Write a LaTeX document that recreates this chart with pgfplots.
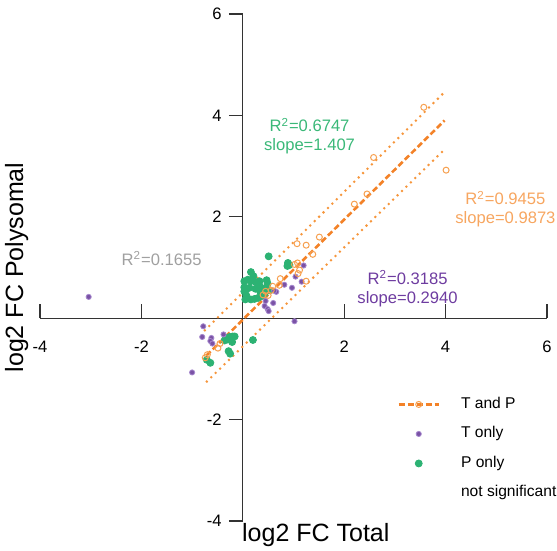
\documentclass[border=0pt]{standalone}
\usepackage{fontspec}
\setmainfont{Liberation Sans}
\usepackage{pgfplots}
\pgfplotsset{compat=1.18}

\definecolor{tpline}{RGB}{243,130,40}
\definecolor{tpdot}{RGB}{246,150,60}
\definecolor{tpmark}{RGB}{246,160,80}
\definecolor{tptext}{RGB}{247,166,96}
\definecolor{pgreen}{RGB}{44,178,115}
\definecolor{pgtext}{RGB}{58,184,120}
\definecolor{tpurple}{RGB}{122,82,165}
\definecolor{tpedge}{RGB}{165,135,205}
\definecolor{tptxt}{RGB}{110,60,160}
\definecolor{nstext}{RGB}{160,160,160}

\begin{document}
\begin{tikzpicture}
  % 1 px of the reference = 0.5pt, axis box lower left at (0,0)
  \useasboundingbox (-20pt,-15pt) rectangle (258.5pt,260.5pt);
  \begin{axis}[
      width=253.5pt, height=253.5pt, scale only axis,
      axis lines=center,
      axis line style={-, draw=black!80, line width=0.6pt},
      every inner x axis line/.append style={-},
      every inner y axis line/.append style={-},
      xmin=-4, xmax=6, ymin=-4, ymax=6,
      enlargelimits=false,
      xtick={-4,-2,2,4,6}, ytick={-4,-2,2,4,6},
      xtick align=inside, ytick align=outside,
      major tick length=7pt,
      tick style={draw=black!80, line width=0.6pt},
      tick label style={font=\fontsize{8.3}{10}\selectfont},
      xticklabel style={yshift=-8pt},
      /pgf/number format/assume math mode=true,
      xlabel={log2 FC Total},
      ylabel={log2 FC Polysomal},
      label style={font=\fontsize{12.5}{14}\selectfont},
      xlabel style={at={(axis description cs:0.544,-0.0414)}, anchor=base},
      ylabel style={at={(axis description cs:-0.0335,0.5)}, anchor=base, rotate=90},
      clip=false,
      legend image code/.code={\draw[mark repeat=2,mark phase=2,#1] plot coordinates {(0pt,0pt)(10pt,0pt)(20pt,0pt)};},
      legend style={draw=none, fill=none, at={(axis cs:3.05,-2.574)}, anchor=west,
        inner sep=0pt, outer sep=0pt,
        font=\fontsize{7.8}{9.4}\selectfont, row sep=6.75pt, column sep=0pt,
        nodes={inner sep=0pt, text height=6pt, text depth=2pt}},
      legend cell align=left,
      /tikz/every odd column/.append style={column sep=10.5pt},
    ]
    % P only
    \addplot[only marks, mark=*, mark size=1.75pt, draw=pgreen, fill=pgreen, forget plot]
      coordinates {(0.51,1.22) (0.89,1.09) (0.88,1.03) (0.92,1.05) (0.16,0.91)
        (0.21,0.83) (0.03,0.73) (0.10,0.76) (0.16,0.73) (0.26,0.71) (0.47,0.75)
        (0.49,0.68) (0.33,0.64) (0.45,0.60) (0.34,0.53) (0.25,0.58) (0.13,0.60)
        (0.03,0.61) (0.03,0.53) (0.07,0.45) (0.05,0.37) (0.16,0.37) (0.23,0.38)
        (0.30,0.40) (0.36,0.43) (0.43,0.49) (0.53,0.55) (0.07,0.57) (0.33,0.73)
        (-0.33,-0.39) (-0.26,-0.37) (-0.20,-0.36) (-0.16,-0.36) (-0.36,-0.44)
        (-0.30,-0.42) (-0.21,-0.47) (-0.28,-0.65) (-0.25,-0.70) (-0.71,-0.82)
        (-0.64,-0.88) (0.20,-0.43)};
    % T only
    \addplot[only marks, mark=*, mark size=1.3pt, draw=tpedge, fill=tpurple, forget plot]
      coordinates {(-3.04,0.42) (1.20,1.04) (1.04,0.82) (1.16,0.72) (0.97,0.60)
        (0.82,0.66) (0.66,0.52) (0.62,0.54) (0.60,0.30) (0.45,0.34) (0.43,0.24)
        (0.49,0.18) (0.51,0.14) (1.02,-0.06) (-0.78,-0.16) (-0.80,-0.37)
        (-0.62,-0.39) (-0.64,-0.45) (-0.60,-0.50) (-0.38,-0.32) (-1.00,-1.07)};
    % T and P
    \addplot[only marks, mark=o, mark size=1.5pt, draw=tpmark, line width=0.5pt, forget plot]
      coordinates {(3.57,4.16) (2.58,3.17) (4.01,2.92) (2.45,2.45) (2.20,2.25)
        (1.51,1.60) (1.25,1.44) (1.07,1.47) (1.38,1.26) (1.02,1.06) (1.08,1.09)
        (1.09,0.88) (1.12,0.95) (0.74,0.78) (0.72,0.65) (0.59,0.63) (0.56,0.55)
        (0.45,0.53) (0.50,0.45) (0.40,0.46) (1.25,0.73) (-0.49,-0.59)
        (-0.45,-0.50) (-0.74,-0.78) (-0.70,-0.72)};
    % fit and bands for T and P
    \addplot[draw=tpdot, line width=1.4pt, line cap=round, dash pattern=on 0pt off 3.1pt, forget plot]
      coordinates {(-0.75,-0.24) (3.98,4.46)};
    \addplot[draw=tpdot, line width=1.4pt, line cap=round, dash pattern=on 0pt off 3.1pt, forget plot]
      coordinates {(-0.71,-1.25) (3.96,3.31)};
    \addplot[draw=tpline, line width=1.3pt, dash pattern=on 3pt off 1.5pt, forget plot]
      coordinates {(-0.72,-0.74) (3.98,3.90)};

    % legend
    \addlegendimage{draw=tpline, line width=1.3pt, dash pattern=on 3pt off 1.5pt,
      mark=o, mark size=1.5pt, mark options={solid, draw=tpmark, line width=0.5pt, fill=white}}
    \addlegendentry{T and P}
    \addlegendimage{only marks, mark=*, mark size=1.3pt, draw=tpedge, fill=tpurple}
    \addlegendentry{T only}
    \addlegendimage{only marks, mark=*, mark size=1.75pt, draw=pgreen, fill=pgreen}
    \addlegendentry{P only}
    \addlegendimage{empty legend}
    \addlegendentry{not significant}

    % annotations
    \node[font=\fontsize{8.3}{9.5}\selectfont, text=nstext] at (axis cs:-1.60,1.18) {R\textsuperscript{2}=0.1655};
    \node[font=\fontsize{8.3}{9.5}\selectfont, text=pgtext, align=center] at (axis cs:1.316,3.59) {R\textsuperscript{2}=0.6747\\slope=1.407};
    \node[font=\fontsize{8.3}{9.5}\selectfont, text=tptext, align=center] at (axis cs:5.18,2.15) {R\textsuperscript{2}=0.9455\\slope=0.9873};
    \node[font=\fontsize{8.3}{9.5}\selectfont, text=tptxt, align=center] at (axis cs:3.25,0.58) {R\textsuperscript{2}=0.3185\\slope=0.2940};
  \end{axis}
\end{tikzpicture}
\end{document}
